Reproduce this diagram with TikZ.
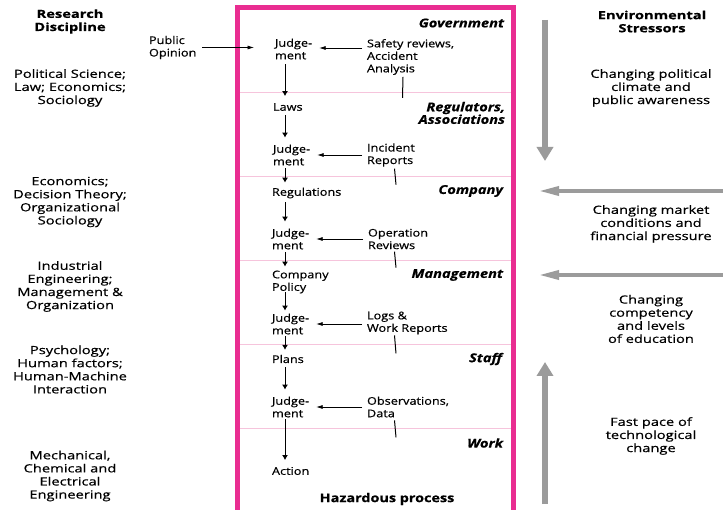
\documentclass[tikz,border=0pt]{standalone}
\usepackage{fontspec}
\setmainfont{Open Sans}[FakeStretch=1.2, FakeBold=0.6]
\newfontfamily\sidefont{Open Sans}[FakeStretch=1.3, FakeBold=0.6]
\usetikzlibrary{arrows.meta,calc}
\definecolor{framepink}{RGB}{233,45,145}
\definecolor{seppink}{RGB}{246,196,220}
\definecolor{garrow}{RGB}{155,155,155}
\begin{document}
\begin{tikzpicture}[x=1pt,y=-1pt,
  every node/.style={inner sep=0pt, outer sep=0pt},
  ctr/.style={font=\fontsize{10.6}{12.5}\selectfont, align=left, anchor=west},
  side/.style={font=\sidefont\fontsize{11.3}{13.1}\selectfont, align=center},
  sidehead/.style={font=\sidefont\fontsize{11.3}{13.1}\selectfont\bfseries, align=center},
  level/.style={font=\fontsize{12.2}{12.6}\selectfont\bfseries\itshape, align=right, anchor=east},
  varr/.style={-{Latex[length=5pt,width=6pt]}, line width=1pt, shorten <=5pt, shorten >=7pt},
  harr/.style={-{Latex[length=6.5pt,width=4pt]}, line width=0.7pt, shorten <=5pt, shorten >=7pt},
  tick/.style={line width=1pt},
  bigv/.style={draw=garrow, line width=6pt, -{Triangle[length=14pt,width=16pt]}},
  bigh/.style={draw=garrow, line width=3.5pt, -{Triangle[length=20pt,width=9pt]}}
]
\useasboundingbox (0,0) rectangle (723,510);

% frame and level separators
\draw[framepink, line width=5pt] (237,520) -- (237,7.5) -- (513.5,7.5) -- (513.5,520);
\foreach \yy in {92,176,260,344,428}
  \draw[seppink, line width=0.6pt] (240,\yy) -- (511,\yy);

% level labels
\node[level] (lgov) at (504,23) {Government};
\node[level] (lreg) at (505,113) {Regulators,\\Associations};
\node[level] (lcom) at (503,191) {Company};
\node[level] (lman) at (503,275) {Management};
\node[level] (lsta) at (502,359) {Staff};
\node[level] (lwor) at (503,443) {Work};
\node[font=\fontsize{12}{13}\selectfont\bfseries] (haz) at (387,499) {Hazardous process};

% main column
\coordinate (cx) at (285,0);
\node[ctr] (j1) at (275,49) {Judge-\\ment};
\node[ctr] (laws) at (273,107) {Laws};
\node[ctr] (j2) at (273,155) {Judge-\\ment};
\node[ctr] (regs) at (272,193) {Regulations};
\node[ctr] (j3) at (272,239) {Judge-\\ment};
\node[ctr] (pol) at (272,282) {Company\\Policy};
\node[ctr] (j4) at (272,324) {Judge-\\ment};
\node[ctr] (plans) at (272,359) {Plans};
\node[ctr] (j5) at (272,407) {Judge-\\ment};
\node[ctr] (act) at (272,471) {Action};

\draw[varr] (j1.south -| cx) -- (laws.north -| cx);
\draw[varr, shorten <=4pt] (laws.south -| cx) -- (j2.north -| cx);
\draw[varr, shorten <=3pt, shorten >=5pt] (j2.south -| cx) -- (regs.north -| cx);
\draw[varr, shorten <=4pt] (regs.south -| cx) -- (j3.north -| cx);
\draw[varr, shorten <=3pt, shorten >=4pt] (j3.south -| cx) -- (pol.north -| cx);
\draw[varr, shorten <=-1pt, shorten >=3pt] (pol.south -| cx) -- (j4.north -| cx);
\draw[varr, shorten <=2pt, shorten >=5pt] (j4.south -| cx) -- (plans.north -| cx);
\draw[varr, shorten <=4pt] (plans.south -| cx) -- (j5.north -| cx);
\draw[varr, shorten <=2pt] (j5.south -| cx) -- (act.north -| cx);

% information sources
\node[ctr] (s1) at (367,57) {Safety reviews,\\Accident\\Analysis};
\node[ctr] (s2) at (367,155) {Incident\\Reports};
\node[ctr] (s3) at (368,239) {Operation\\Reviews};
\node[ctr] (s4) at (367,323) {Logs \&\\Work Reports};
\node[ctr] (s5) at (367,407) {Observations,\\Data};

\draw[harr] (s1.west |- 0,48) -- (j1.east |- 0,48);
\draw[harr] (s2.west |- j2.east) -- (j2.east);
\draw[harr] (s3.west |- j3.east) -- (j3.east);
\draw[harr] (s4.west |- j4.east) -- (j4.east);
\draw[harr] (s5.west |- j5.east) -- (j5.east);

\draw[tick] ($(s1.south west)+(36,2)$) -- ++(-0.5,21);
\draw[tick] ($(s2.south west)+(27.5,2)$) -- ++(1.5,16);
\draw[tick] ($(s3.south west)+(26.5,2.5)$) -- ++(1.5,16);
\draw[tick] ($(s4.south west)+(27.5,1)$) -- ++(1.5,18);
\draw[tick] ($(s5.south west)+(27.5,3)$) -- ++(1.5,17);

% public opinion
\node[ctr] (pub) at (149,47.5) {Public\\Opinion};
\draw[harr, shorten <=6pt, shorten >=21pt] (pub.east) -- (pub.east -| j1.west);

% research disciplines
\node[sidehead] (rdh) at (70,21.5) {Research\\Discipline};
\node[side] (d1) at (70,88) {Political Science;\\Law; Economics;\\Sociology};
\node[side] (d2) at (70,202) {Economics;\\Decision Theory;\\Organizational\\Sociology};
\node[side] (d3) at (70,286.5) {Industrial\\Engineering;\\Management \&\\Organization};
\node[side] (d4) at (70,369.5) {Psychology;\\Human factors;\\Human-Machine\\Interaction};
\node[side] (d5) at (70,476) {Mechanical,\\Chemical and\\Electrical\\Engineering};

% environmental stressors
\node[sidehead] (envh) at (652,21.5) {Environmental\\Stressors};
\node[side] (e1) at (651,88) {Changing political\\climate and\\public awareness};
\node[side] (e2) at (651,224) {Changing market\\conditions and\\financial pressure};
\node[side] (e3) at (651,319) {Changing\\competency\\and levels\\of education};
\node[side] (e4) at (651,436) {Fast pace of\\technological\\change};

\coordinate (g1s) at (545,20);  \coordinate (g1e) at (545,161);
\coordinate (g2s) at (725,191); \coordinate (g2e) at (539,191);
\coordinate (g3s) at (725,275); \coordinate (g3e) at (539,275);
\coordinate (g4s) at (545,504); \coordinate (g4e) at (545,362);
\draw[bigv] (g1s) -- (g1e);
\draw[bigh] (g2s) -- (g2e);
\draw[bigh] (g3s) -- (g3e);
\draw[bigv] (g4s) -- (g4e);
\end{tikzpicture}
\end{document}
